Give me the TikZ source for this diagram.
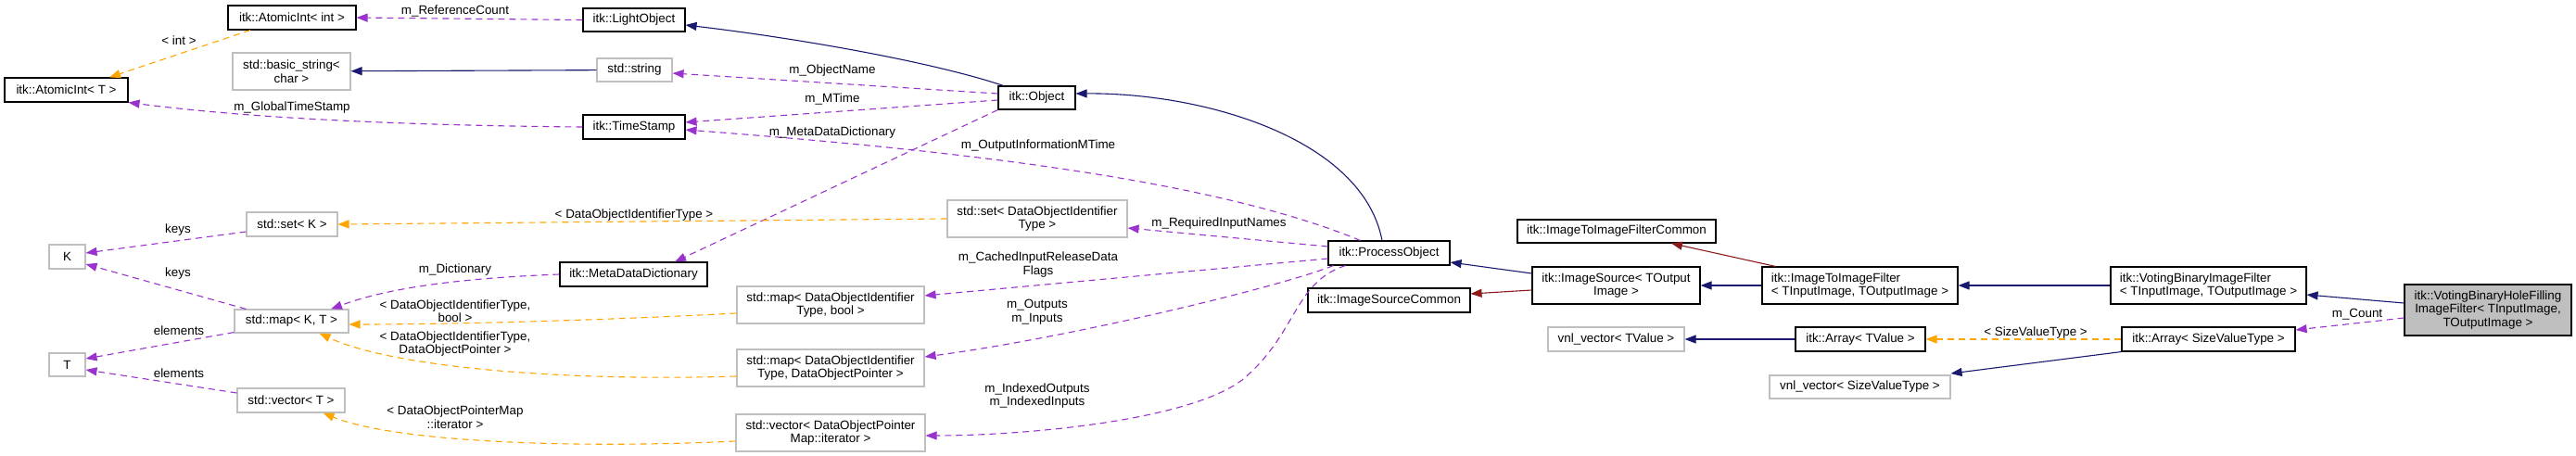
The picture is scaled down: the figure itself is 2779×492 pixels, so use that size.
\documentclass[tikz,border=0pt]{standalone}
\usepackage{fontspec}
\setmainfont{Liberation Sans}
\usepackage{tikz}
\usetikzlibrary{arrows.meta, calc}
\definecolor{inhblue}{RGB}{25, 25, 112}
\definecolor{protred}{RGB}{139, 26, 26}
\definecolor{membpurple}{RGB}{154, 50, 205}
\definecolor{tmplorange}{RGB}{255, 165, 0}
\definecolor{extgray}{RGB}{191, 191, 191}
\newcommand{\dxfont}{\fontsize{13.4}{14.5}\selectfont}

\begin{document}
\begin{tikzpicture}[x=1pt, y=-1pt, >={Triangle[length=12pt,width=9pt]},
  cls/.style={draw=black, line width=1.1pt, font=\dxfont, inner sep=0pt, align=center},
  ext/.style={cls, draw=extgray},
  sz/.style 2 args={minimum width=#1pt, minimum height=#2pt},
  lbl/.style={font=\dxfont, inner sep=0pt, align=center},
  inh/.style={inhblue, line width=1.1pt, ->},
  inhprot/.style={protred, line width=1.1pt, ->},
  memb/.style={membpurple, line width=1.1pt, dash pattern=on 7pt off 5pt, ->},
  tinst/.style={tmplorange, line width=1.1pt, dash pattern=on 7pt off 5pt, ->}]

  \useasboundingbox (0,0) rectangle (2779,492);

  % left column
  \node[cls, sz={133}{26}] (atT) at (71.5,97) {itk::AtomicInt< T >};
  \node[ext, sz={39}{26}] (K) at (72.5,277) {K};
  \node[ext, sz={39}{25}] (T) at (72.5,393.5) {T};

  \node[cls, sz={138}{26}] (aint) at (315,19) {itk::AtomicInt< int >};
  \node[ext, sz={127}{40}] (bstr) at (314.5,77) {std::basic\_string<\\char >};
  \node[ext, sz={98}{26}] (setK) at (315,242) {std::set< K >};
  \node[ext, sz={123}{25}] (mapKT) at (314.5,346.5) {std::map< K, T >};
  \node[ext, sz={116}{26}] (vecT) at (314,432) {std::vector< T >};

  \node[cls, sz={110}{25}] (lobj) at (684,21.5) {itk::LightObject};
  \node[ext, sz={81}{25}] (str) at (684.5,75.5) {std::string};
  \node[cls, sz={110}{26}] (tstamp) at (684,137) {itk::TimeStamp};
  \node[cls, sz={159}{26}] (mdd) at (683.5,296) {itk::MetaDataDictionary};

  % middle column
  \node[ext, sz={202}{40}] (mapBool) at (896,329) {std::map< DataObjectIdentifier\\Type, bool >};
  \node[ext, sz={202}{40}] (mapPtr) at (896,397) {std::map< DataObjectIdentifier\\Type, DataObjectPointer >};
  \node[ext, sz={204}{40}] (vecIt) at (896,467) {std::vector< DataObjectPointer\\Map::iterator >};

  \node[cls, sz={83}{25}] (obj) at (1118.5,105.5) {itk::Object};
  \node[ext, sz={194}{40}] (setId) at (1119,236) {std::set< DataObjectIdentifier\\Type >};

  \node[cls, sz={131}{26}] (pobj) at (1498.5,273) {itk::ProcessObject};
  \node[cls, sz={175}{26}] (iscommon) at (1498.5,324) {itk::ImageSourceCommon};

  % right part
  \node[cls, sz={214}{25}] (itifc) at (1744,249.5) {itk::ImageToImageFilterCommon};
  \node[cls, sz={181}{40}] (isrc) at (1743.5,308) {itk::ImageSource< TOutput\\Image >};
  \node[ext, sz={147}{26}] (vnlT) at (1743.5,366) {vnl\_vector< TValue >};

  \node[cls, sz={211}{40}, align=left] (itif) at (2006.5,308) {itk::ImageToImageFilter\\< TInputImage, TOutputImage >};
  \node[cls, sz={140}{26}] (arrT) at (2007,366) {itk::Array< TValue >};
  \node[ext, sz={195}{25}] (vnlS) at (2006.5,417.5) {vnl\_vector< SizeValueType >};

  \node[cls, sz={211}{40}, align=left] (vbif) at (2382.5,308) {itk::VotingBinaryImageFilter\\< TInputImage, TOutputImage >};
  \node[cls, sz={187}{26}] (arrS) at (2382.5,366) {itk::Array< SizeValueType >};

  \node[cls, sz={180}{55}, fill=extgray] (hole) at (2684,334.5) {itk::VotingBinaryHoleFilling\\ImageFilter< TInputImage,\\TOutputImage >};

  % public inheritance
  \draw[inh] ($(obj.north)+(-36,0)$) .. controls (1000,65) and (850,40) .. ($(lobj.east)+(0,5.5)$);
  \draw[inh] (str) -- (bstr);
  \draw[inh] ($(pobj.north)+(-7.5,0)$) .. controls (1470,150) and (1300,100) .. ($(obj.east)+(0,-4.5)$);
  \draw[inh] ($(isrc.west)+(0,-13)$) -- ($(pobj.east)+(0,10)$);
  \draw[inh] (itif) -- (isrc);
  \draw[inh] (vbif) -- (itif);
  \draw[inh] ($(hole.west)+(0,-7.5)$) -- ($(vbif.east)+(0,10)$);
  \draw[inh] (arrT) -- (vnlT);
  \draw[inh] (arrS.south west) -- ($(vnlS.east)+(0,-14.5)$);

  % protected inheritance
  \draw[inhprot] ($(isrc.west)+(0,5)$) -- ($(iscommon.east)+(0,-7)$);
  \draw[inhprot] ($(itif.north west)+(15,0)$) -- ($(itifc.south)+(59,0)$);

  % members
  \draw[memb] (lobj.west) -- (aint.east);
  \draw[memb] (tstamp.west) .. controls (400,135) and (250,125) .. (atT.south east);
  \draw[memb] ($(obj.west)+(0,-4.5)$) -- ($(str.east)+(0,3.5)$);
  \draw[memb] ($(obj.west)+(0,2.5)$) -- ($(tstamp.east)+(0,-5)$);
  \draw[memb] ($(pobj.north west)+(35,0)$) .. controls (1300,190) and (1000,160) .. ($(tstamp.east)+(0,3)$);
  \draw[memb] (obj.south west) -- ($(mdd.north)+(44.5,0)$);
  \draw[memb] (mdd.west) .. controls (500,300) and (420,310) .. ($(mapKT.north)+(42.5,0)$);
  \draw[memb] ($(setK.west)+(0,8)$) -- ($(K.east)+(0,-4)$);
  \draw[memb] ($(mapKT.north west)+(13,0)$) -- ($(K.east)+(0,8)$);
  \draw[memb] ($(mapKT.south west)+(0,-1)$) -- ($(T.east)+(0,-6.5)$);
  \draw[memb] ($(vecT.west)+(0,-8)$) -- ($(T.east)+(0,5.5)$);
  \draw[memb] ($(pobj.west)+(0,-7)$) -- ($(setId.east)+(0,10)$);
  \draw[memb] ($(pobj.west)+(0,6)$) -- ($(mapBool.east)+(0,-10)$);
  \draw[memb] ($(pobj.south west)+(6,0)$) .. controls (1380,310) and (1150,365) .. ($(mapPtr.east)+(0,-12)$);
  \draw[memb] ($(pobj.south west)+(19,0)$) .. controls (1395,305) and (1400,360) .. (1340,410)
    .. controls (1280,455) and (1100,470) .. ($(vecIt.east)+(0,3)$);
  \draw[memb] ($(hole.west)+(0,8.5)$) -- ($(arrS.east)+(0,-10)$);

  % template instances
  \draw[tinst] ($(aint.south)+(-45,0)$) -- ($(atT.north)+(46.5,0)$);
  \draw[tinst] (setId.west) -- (setK.east);
  \draw[tinst] ($(mapBool.west)+(0,9)$) .. controls (600,348) and (450,350) .. ($(mapKT.east)+(0,3.5)$);
  \draw[tinst] ($(mapPtr.west)+(0,9)$) .. controls (600,412) and (420,395) .. ($(mapKT.south east)+(-32,0)$);
  \draw[tinst] ($(vecIt.west)+(0,9)$) .. controls (600,485) and (420,475) .. ($(vecT.south east)+(-24,0)$);
  \draw[tinst] (arrS) -- (arrT);

  % edge labels
  \node[lbl] (lbRef) at (491,12) {m\_ReferenceCount};
  \node[lbl] (lbInt) at (193,44) {< int >};
  \node[lbl] (lbGlob) at (315,116) {m\_GlobalTimeStamp};
  \node[lbl] (lbName) at (898,76) {m\_ObjectName};
  \node[lbl] (lbMTime) at (898,107) {m\_MTime};
  \node[lbl] (lbMdd) at (898,143) {m\_MetaDataDictionary};
  \node[lbl] (lbOut) at (1120,157) {m\_OutputInformationMTime};
  \node[lbl] (lbSetId) at (684,232) {< DataObjectIdentifierType >};
  \node[lbl] (lbDict) at (491,291) {m\_Dictionary};
  \node[lbl] (lbKeys1) at (192,248) {keys};
  \node[lbl] (lbKeys2) at (192,295) {keys};
  \node[lbl] (lbElem1) at (193,357) {elements};
  \node[lbl] (lbElem2) at (193,403) {elements};
  \node[lbl] (lbBool) at (491,335.5) {< DataObjectIdentifierType,\\bool >};
  \node[lbl] (lbPtr) at (491,371) {< DataObjectIdentifierType,\\DataObjectPointer >};
  \node[lbl] (lbIt) at (491,450) {< DataObjectPointerMap\\::iterator >};
  \node[lbl] (lbReq) at (1315,241) {m\_RequiredInputNames};
  \node[lbl] (lbFlags) at (1120,285.5) {m\_CachedInputReleaseData\\Flags};
  \node[lbl] (lbIO) at (1119,336.5) {m\_Outputs\\m\_Inputs};
  \node[lbl] (lbIdx) at (1119,427) {m\_IndexedOutputs\\m\_IndexedInputs};
  \node[lbl] (lbSize) at (2196,359) {< SizeValueType >};
  \node[lbl] (lbCount) at (2543,339) {m\_Count};

\end{tikzpicture}
\end{document}
